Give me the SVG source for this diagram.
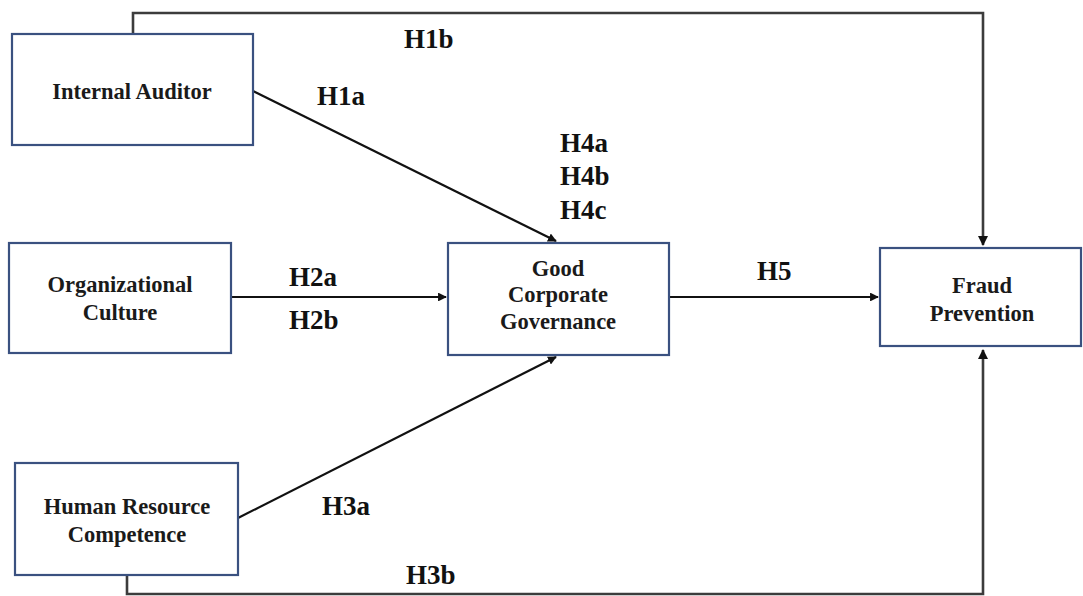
<svg xmlns="http://www.w3.org/2000/svg" width="1083" height="596" viewBox="0 0 1083 596">
<style>
.box{fill:#fff;stroke:#3a5180;stroke-width:2.2}
.nt{font-family:"Liberation Serif","Times New Roman",serif;font-weight:bold;font-size:22.5px;fill:#1a1a1a;text-anchor:middle}
.lb{font-family:"Liberation Serif","Times New Roman",serif;font-weight:bold;font-size:27px;fill:#111}
.c{fill:none;stroke:#111;stroke-width:2.2}
.cg{fill:none;stroke:#3c3c3c;stroke-width:2.6}
</style>
<defs>
<marker id="ah" viewBox="0 0 10 10" refX="9" refY="5" markerWidth="4" markerHeight="4" orient="auto" markerUnits="strokeWidth">
<path d="M0,0 L10,5 L0,10 z" fill="#111"/>
</marker>
</defs>
<g id="connectors">
<path class="cg" d="M133,34 V13 H983 V245" marker-end="url(#ah)"/>
<path class="c" d="M253,91 L556,241" marker-end="url(#ah)"/>
<path class="c" d="M231,297 H446" marker-end="url(#ah)"/>
<path class="c" d="M669,297 H878" marker-end="url(#ah)"/>
<path class="c" d="M238,518 L556,357" marker-end="url(#ah)"/>
<path class="cg" d="M127,575 V594 H983 V350" marker-end="url(#ah)"/>
</g>
<g id="labels">
<text class="lb" x="404" y="48">H1b</text>
<text class="lb" x="317" y="105">H1a</text>
<text class="lb" x="560" y="152">H4a</text>
<text class="lb" x="560" y="185">H4b</text>
<text class="lb" x="560" y="219">H4c</text>
<text class="lb" x="289" y="286">H2a</text>
<text class="lb" x="289" y="329">H2b</text>
<text class="lb" x="757" y="280">H5</text>
<text class="lb" x="322" y="515">H3a</text>
<text class="lb" x="406" y="584">H3b</text>
</g>
<g id="internal-auditor">
<rect class="box" x="12" y="34" width="241" height="111"/>
<text class="nt" x="132" y="99">Internal Auditor</text>
</g>
<g id="organizational-culture">
<rect class="box" x="9" y="243" width="222" height="110"/>
<text class="nt" x="120" y="292">Organizational</text>
<text class="nt" x="120" y="320">Culture</text>
</g>
<g id="good-corporate-governance">
<rect class="box" x="448" y="243" width="221" height="112"/>
<text class="nt" x="558" y="276">Good</text>
<text class="nt" x="558" y="302">Corporate</text>
<text class="nt" x="558" y="329">Governance</text>
</g>
<g id="fraud-prevention">
<rect class="box" x="880" y="248" width="201" height="98"/>
<text class="nt" x="982" y="293">Fraud</text>
<text class="nt" x="982" y="321">Prevention</text>
</g>
<g id="human-resource-competence">
<rect class="box" x="15" y="463" width="223" height="112"/>
<text class="nt" x="127" y="514">Human Resource</text>
<text class="nt" x="127" y="542">Competence</text>
</g>
</svg>
